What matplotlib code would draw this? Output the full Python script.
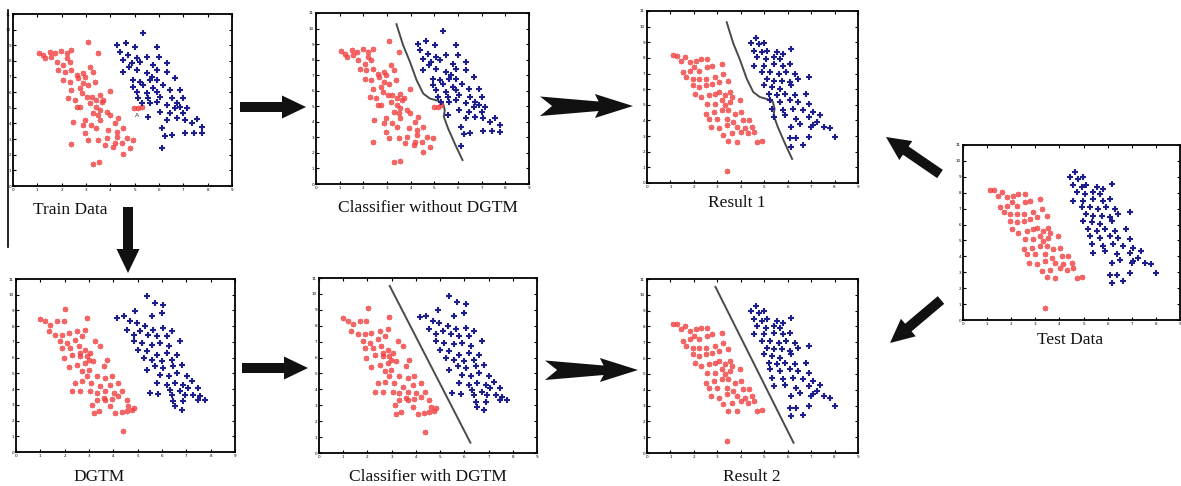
import matplotlib
matplotlib.use("Agg")
import matplotlib.pyplot as plt
from matplotlib.patches import FancyArrow, Polygon

# ---------------- data ----------------
train_red_x = [1.07,1.24,1.30,1.51,1.58,1.72,1.99,2.20,2.40,3.09,3.50,1.79,2.06,2.34,1.85,2.13,2.40,2.61,2.88,3.16,
               3.30,3.37,2.06,2.34,2.68,2.95,2.40,2.75,3.09,2.27,2.54,2.82,3.23,3.57,3.98,2.61,3.16,3.43,3.64,2.47,
               2.95,3.30,3.50,3.85,2.88,3.22,3.57,3.98,4.33,2.97,3.43,3.91,4.19,4.53,3.09,3.50,3.85,4.26,4.67,4.95,
               2.40,3.78,4.12,4.46,4.81,4.53,3.30,3.53,2.75,3.05,3.43,3.57,3.71,4.26,4.19,2.20,2.88,4.98,5.15,5.30]
train_red_y = [8.53,8.38,8.17,8.60,8.27,8.49,8.66,8.49,8.70,9.23,8.49,7.95,7.74,7.95,7.42,7.31,7.42,7.10,7.20,7.63,
               7.31,6.67,6.78,6.67,6.89,6.99,6.14,6.25,6.46,5.60,5.50,5.93,5.71,5.82,6.10,5.07,5.29,5.07,5.39,4.11,
               4.22,4.65,4.54,4.75,3.90,3.90,4.22,4.54,4.33,3.37,3.69,3.58,4.01,3.69,2.94,2.94,3.05,3.16,3.05,2.94,
               2.69,2.62,2.52,2.73,2.41,2.05,1.41,1.51,5.07,5.71,5.50,4.86,5.50,3.48,2.73,8.17,6.57,4.97,4.97,5.07]

train_blue_x = [5.36,4.29,4.64,5.01,5.91,4.40,4.74,5.08,5.49,5.98,4.53,4.88,5.22,5.77,6.32,4.53,4.78,5.08,5.49,5.91,
                6.32,4.95,5.22,5.63,5.91,6.66,4.95,5.36,5.77,6.18,5.08,5.49,5.91,6.46,6.87,5.15,5.56,6.04,6.52,7.00,
                5.63,5.91,6.32,6.73,7.14,5.56,6.04,6.46,6.66,7.00,6.32,6.73,7.07,7.55,6.11,7.35,7.76,7.07,7.42,7.76,
                6.25,6.52,6.11,5.70,5.29,6.87]
train_blue_y = [9.81,9.02,9.17,8.91,8.91,8.59,8.38,8.17,8.27,8.27,8.06,7.85,7.95,7.74,7.85,7.31,7.63,7.42,7.20,7.42,
                7.31,6.78,6.67,6.78,6.78,6.89,6.35,6.46,6.25,6.46,6.03,5.93,6.03,6.14,6.14,5.60,5.60,5.71,5.60,5.60,
                5.29,5.39,5.18,5.29,4.97,4.43,4.75,4.65,4.97,4.65,4.22,4.33,4.22,4.26,3.69,4.01,3.80,3.41,3.41,3.37,
                3.20,3.26,2.45,7.00,5.29,5.07]

dgtm_red_x = [1.00,1.20,1.41,1.34,1.68,1.96,2.02,2.91,1.61,1.89,2.16,2.50,2.85,1.82,2.09,2.43,2.71,3.26,3.46,1.89,
              2.23,2.57,2.85,3.05,1.96,2.30,2.64,2.91,2.50,2.85,3.17,2.16,2.71,2.98,3.60,3.73,2.91,3.32,3.67,3.94,
              2.43,2.71,3.10,3.46,3.87,4.21,2.30,2.64,3.05,3.32,3.67,4.01,4.36,3.32,3.60,3.94,4.21,4.56,3.12,3.87,
              4.62,4.83,3.19,3.40,4.08,4.35,4.56,4.76,4.38,2.64,2.98,3.67]
dgtm_red_y = [8.47,8.30,8.09,7.67,8.30,8.30,9.09,8.52,7.46,7.46,7.56,7.67,7.78,7.03,6.93,7.14,7.35,7.03,6.72,6.61,
              6.61,6.72,6.50,6.29,5.97,6.19,6.08,6.08,5.55,5.66,5.76,5.40,5.13,5.23,5.44,5.87,4.81,4.81,4.70,4.81,
              4.39,4.49,4.39,4.17,4.28,4.39,3.86,3.86,3.86,3.75,3.86,3.75,3.86,3.33,3.43,3.37,3.54,3.33,3.01,2.90,
              2.90,2.80,2.48,2.58,2.48,2.52,2.58,2.65,1.31,6.29,5.87,3.33]

dgtm_blue_x = [5.38,5.71,6.06,4.90,5.58,5.99,4.15,4.42,4.69,4.97,5.31,5.65,6.06,6.40,4.55,4.83,5.10,5.44,5.79,6.20,
               6.74,4.83,5.16,5.58,5.92,6.27,5.00,5.38,5.79,6.20,5.24,5.58,5.99,6.40,6.61,5.38,5.72,6.06,6.47,6.81,
               5.92,6.27,6.61,7.02,7.22,5.79,6.20,6.54,6.88,6.33,6.74,7.08,7.49,5.85,6.40,6.95,7.29,7.56,7.76,6.47,
               6.88,7.49,6.54,6.81,5.51]
dgtm_blue_y = [9.89,9.47,9.36,8.98,8.62,8.83,8.52,8.62,8.30,8.20,7.99,7.78,7.88,7.67,7.78,7.46,7.67,7.46,7.35,7.35,
               7.03,7.03,6.93,6.82,6.93,6.72,6.50,6.40,6.19,6.29,5.97,5.87,5.76,5.87,6.19,5.23,5.44,5.34,5.44,5.55,
               4.92,4.81,5.02,4.81,4.49,4.39,4.28,4.39,4.28,3.96,3.86,4.07,4.07,3.71,3.64,3.64,3.64,3.54,3.33,3.22,
               3.22,3.33,2.90,2.69,3.75]

test_red_x = [1.13,1.27,1.47,1.61,1.82,2.09,2.30,2.58,1.54,1.82,2.02,2.23,2.58,2.78,3.20,1.68,1.96,2.23,2.51,2.92,
              3.26,1.96,2.23,2.51,2.78,3.06,3.47,2.03,2.30,2.65,2.92,3.33,3.54,2.58,2.92,3.20,3.54,3.95,2.51,2.85,
              3.20,3.47,3.75,4.02,2.65,3.00,3.40,3.68,4.09,4.37,2.72,3.06,3.40,3.82,4.16,4.50,3.26,3.61,4.02,4.30,
              4.57,3.47,3.82,4.71,4.92,3.40,3.06,3.33,3.61]
test_red_y = [8.18,8.14,7.82,8.03,7.72,7.82,7.93,7.93,7.08,7.19,7.40,7.19,7.40,7.51,7.61,6.77,6.66,6.66,6.66,6.77,
              6.98,6.24,6.13,6.24,6.34,6.45,6.55,5.71,5.50,5.60,5.71,5.60,5.81,5.07,5.07,5.29,5.18,5.29,4.44,4.55,
              4.65,4.65,4.44,4.55,4.12,4.12,4.12,3.91,4.02,4.02,3.59,3.49,3.70,3.59,3.49,3.59,3.07,3.17,3.28,3.17,
              3.28,2.68,2.64,2.64,2.70,0.74,5.81,4.97,5.50]

test_blue_x = [4.64,4.44,4.78,4.99,4.58,4.92,5.12,5.54,5.81,6.16,4.71,5.06,5.40,5.68,4.58,4.99,5.40,5.81,6.09,5.26,
               5.61,5.95,6.30,5.12,5.40,5.75,6.09,6.44,6.92,4.99,5.33,5.68,6.16,5.19,5.54,5.88,6.30,6.78,5.26,5.68,
               6.09,6.44,6.92,5.33,5.81,6.23,6.64,7.06,5.40,5.88,6.37,6.92,7.40,6.16,6.51,6.99,7.26,7.54,7.81,6.09,
               6.37,6.92,8.02,6.16,6.64,4.92,7.06]
test_blue_y = [9.30,8.98,8.88,8.98,8.46,8.35,8.46,8.35,8.24,8.56,8.03,7.93,8.03,7.93,7.51,7.51,7.61,7.51,7.61,7.08,
               6.98,7.08,6.98,6.66,6.55,6.55,6.45,6.66,6.77,6.24,6.13,6.03,6.24,5.71,5.60,5.71,5.60,5.71,5.29,5.18,
               5.29,5.18,5.07,4.76,4.65,4.76,4.65,4.55,4.23,4.33,4.12,4.23,4.33,3.59,3.80,3.59,3.91,3.59,3.49,2.85,
               2.85,2.96,2.96,2.33,2.43,7.08,3.70]

# nonlinear classifier boundary (without DGTM)
curve_x = [3.40,3.68,3.97,4.25,4.53,4.81,5.16,5.37,5.44,5.40,5.58,5.86,6.19]
curve_y = [10.28,8.93,7.86,6.68,5.82,5.50,5.35,5.18,4.75,4.33,3.58,2.61,1.54]
# linear classifier boundary (with DGTM)
line_x = [2.92,6.25]
line_y = [10.5,0.65]

titles = ["Train Data", "Classifier without DGTM", "Result 1", "Test Data",
          "DGTM", "Classifier with DGTM", "Result 2"]

RED = "#f23f3f"
BLUE = "#1d1f8f"
W, H = 1181, 486

fig = plt.figure(figsize=(W / 100, H / 100), dpi=100)
ov = fig.add_axes([0, 0, 1, 1])
ov.set_xlim(0, W)
ov.set_ylim(H, 0)
ov.axis("off")


def panel(box, rx, ry, bx, by, boundary=None, label_a=False):
    l, t, r, b = box
    ax = fig.add_axes([l / W, 1 - b / H, (r - l) / W, (b - t) / H])
    # red: asterisk-like blobs, blue: bold plus signs
    ax.scatter(rx, ry, s=9, marker=(8, 2, 0), color=RED, alpha=0.8, linewidths=1.1, zorder=3)
    ax.scatter(bx, by, s=16, marker="+", color=BLUE, linewidths=1.5, zorder=3)
    if boundary is not None:
        ax.plot(boundary[0], boundary[1], color="#4a4a4a", lw=1.4, zorder=2)
    if label_a:
        ax.text(5.08, 4.54, "A", fontsize=4.5, color="#333333", ha="center", va="center")
    ax.set_xlim(0, 9)
    ax.set_ylim(0, 11)
    ax.set_xticks(range(0, 10))
    ax.set_yticks(range(0, 12))
    ax.tick_params(direction="in", length=2, width=0.8, labelsize=3, pad=1.5,
                   top=True, right=True)
    for s in ax.spines.values():
        s.set_linewidth(1.3)
    return ax


panel((13, 14, 232, 186), train_red_x, train_red_y, train_blue_x, train_blue_y, label_a=True)
panel((316, 13, 529, 184), train_red_x, train_red_y, train_blue_x, train_blue_y, (curve_x, curve_y))
panel((647, 11, 858, 183), test_red_x, test_red_y, test_blue_x, test_blue_y, (curve_x, curve_y))
panel((963, 145, 1180, 320), test_red_x, test_red_y, test_blue_x, test_blue_y)
panel((16, 279, 235, 452), dgtm_red_x, dgtm_red_y, dgtm_blue_x, dgtm_blue_y)
panel((319, 278, 537, 453), dgtm_red_x, dgtm_red_y, dgtm_blue_x, dgtm_blue_y, (line_x, line_y))
panel((647, 279, 858, 453), test_red_x, test_red_y, test_blue_x, test_blue_y, (line_x, line_y))

# titles (pixel positions)
title_pos = [(33, 210, "left"), (428, 208, "center"), (737, 203, "center"), (1070, 340, "center"),
             (99, 477, "center"), (428, 477, "center"), (752, 477, "center")]
for txt, (x, y, ha) in zip(titles, title_pos):
    ov.text(x, y, txt, fontsize=12.5, family="Liberation Serif", ha=ha, va="center", color="#111111")

# left vertical rule
ov.plot([8, 8], [10, 247], color="black", lw=1.2)

# simple block arrows
def block(x0, y0, x1, y1):
    ov.add_patch(FancyArrow(x0, y0, x1 - x0, y1 - y0, width=10, head_width=23,
                            head_length=24, length_includes_head=True,
                            color="#111111", lw=0))

block(240, 107, 306, 107)
block(242, 368, 308, 368)
block(128, 207, 128, 273)
block(940, 174, 886, 137)
block(941, 300, 890, 343)

# stealth arrows
def stealth(x0, x1, yc):
    L = x1 - x0
    pts = [(x0, yc - 9.5), (x0 + 0.63 * L, yc - 4.5), (x0 + 0.59 * L, yc - 12),
           (x1, yc), (x0 + 0.59 * L, yc + 12), (x0 + 0.63 * L, yc + 5),
           (x0, yc + 10), (x0 + 0.13 * L, yc)]
    ov.add_patch(Polygon(pts, closed=True, color="#111111", lw=0))

stealth(540, 633, 106)
stealth(545, 638, 370)

fig.savefig("out.png", dpi=100)
